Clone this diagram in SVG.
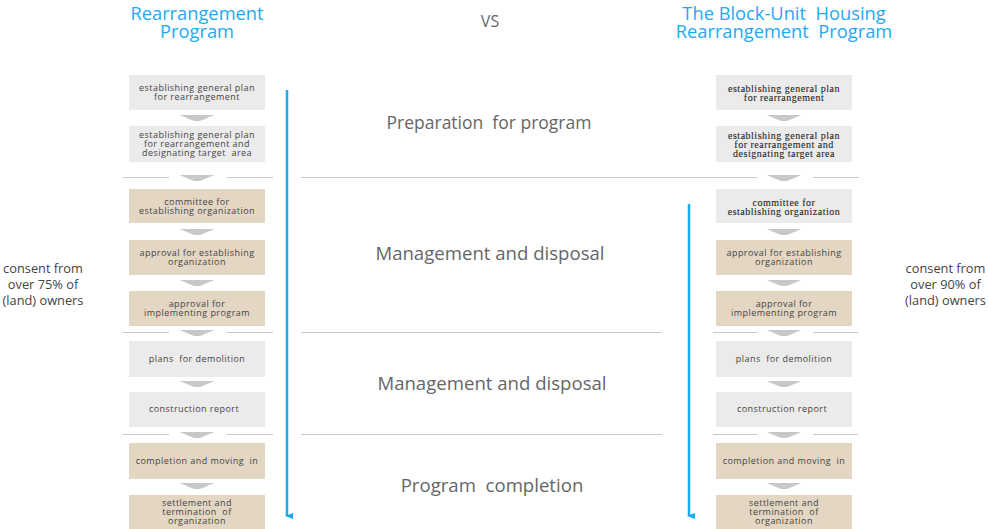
<svg xmlns="http://www.w3.org/2000/svg" width="988" height="529" viewBox="0 0 988 529" xml:space="preserve">
<style>
text{white-space:pre}
.title{font-family:"Open Sans","Noto Sans",sans-serif;font-size:18.3px;fill:#1eaaf1;text-anchor:middle}
.vs{font-family:"Open Sans","Noto Sans",sans-serif;font-size:16px;fill:#666;text-anchor:middle}
.phase{font-family:"Open Sans","Noto Sans",sans-serif;font-size:17.5px;fill:#666;text-anchor:middle}
.phase2{font-family:"Open Sans","Noto Sans",sans-serif;font-size:18.6px;fill:#666;text-anchor:middle}
.side{font-family:"Open Sans","Noto Sans",sans-serif;font-size:12.8px;fill:#444;text-anchor:middle}
.g{fill:#ebebeb}
.t{fill:#e3d7c4}
.bt{font-family:"Open Sans","Noto Sans",sans-serif;font-size:9px;letter-spacing:0.45px;fill:#444;text-anchor:middle}
.st{font-family:"Liberation Serif",serif;font-size:10px;letter-spacing:0.5px;fill:#222;text-anchor:middle;stroke:#333;stroke-width:0.1}
.chev{fill:#c8c8c8}
.div{stroke:#c8c8c8;stroke-width:1;fill:none}
.flow{stroke:#1aabea;stroke-width:2.5;fill:none}
</style>
<defs>
<marker id="ah" markerWidth="6" markerHeight="8" refX="3" refY="6" orient="auto-start-reverse" markerUnits="userSpaceOnUse" viewBox="0 0 6 8">
<path d="M0,0 L3,8 L6,0 Z" fill="#1aabea"/>
</marker>
<polygon id="cv" points="-17.5,0 17.5,0 3,6 -3,6"/>
</defs>
<text class="title" x="197" y="20">Rearrangement</text>
<text class="title" x="197" y="38">Program</text>
<text class="vs" x="490" y="27">VS</text>
<text class="title" x="784" y="20">The Block-Unit  Housing</text>
<text class="title" x="784" y="38">Rearrangement  Program</text>
<text class="phase" x="489" y="129">Preparation  for program</text>
<text class="phase2" x="490" y="260">Management and disposal</text>
<text class="phase2" x="492" y="390">Management and disposal</text>
<text class="phase2" x="492" y="492">Program  completion</text>
<g id="side-left">
<text class="side" x="43" y="273">consent from</text>
<text class="side" x="43" y="289">over 75% of</text>
<text class="side" x="43" y="305">(land) owners</text>
</g>
<g id="side-right">
<text class="side" x="945.5" y="273">consent from</text>
<text class="side" x="945.5" y="289">over 90% of</text>
<text class="side" x="945.5" y="305">(land) owners</text>
</g>
<g id="dividers">
<line class="div" x1="123" y1="177.5" x2="169" y2="177.5"/>
<line class="div" x1="227" y1="177.5" x2="273" y2="177.5"/>
<line class="div" x1="301" y1="177.5" x2="757" y2="177.5"/>
<line class="div" x1="813" y1="177.5" x2="859" y2="177.5"/>
<line class="div" x1="123" y1="332.5" x2="169" y2="332.5"/>
<line class="div" x1="227" y1="332.5" x2="273" y2="332.5"/>
<line class="div" x1="301" y1="332.5" x2="662" y2="332.5"/>
<line class="div" x1="713" y1="332.5" x2="757" y2="332.5"/>
<line class="div" x1="813" y1="332.5" x2="858" y2="332.5"/>
<line class="div" x1="123" y1="434.5" x2="169" y2="434.5"/>
<line class="div" x1="227" y1="434.5" x2="273" y2="434.5"/>
<line class="div" x1="301" y1="434.5" x2="662" y2="434.5"/>
<line class="div" x1="713" y1="434.5" x2="757" y2="434.5"/>
<line class="div" x1="813" y1="434.5" x2="858" y2="434.5"/>
</g>
<g id="connectors">
<use href="#cv" class="chev" x="197" y="115"/>
<use href="#cv" class="chev" x="197" y="175"/>
<use href="#cv" class="chev" x="197" y="229"/>
<use href="#cv" class="chev" x="197" y="280"/>
<use href="#cv" class="chev" x="197" y="330"/>
<use href="#cv" class="chev" x="197" y="381"/>
<use href="#cv" class="chev" x="197" y="432"/>
<use href="#cv" class="chev" x="197" y="483"/>
<use href="#cv" class="chev" x="784" y="115"/>
<use href="#cv" class="chev" x="784" y="175"/>
<use href="#cv" class="chev" x="784" y="229"/>
<use href="#cv" class="chev" x="784" y="280"/>
<use href="#cv" class="chev" x="784" y="330"/>
<use href="#cv" class="chev" x="784" y="381"/>
<use href="#cv" class="chev" x="784" y="432"/>
<use href="#cv" class="chev" x="784" y="483"/>
<line class="flow" x1="287" y1="90" x2="287" y2="516" marker-end="url(#ah)"/>
<line class="flow" x1="689" y1="204" x2="689" y2="516" marker-end="url(#ah)"/>
</g>
<g id="L1"><rect class="g" x="129" y="75" width="136" height="35"/><text class="bt" x="197" y="91">establishing general plan</text><text class="bt" x="197" y="100">for rearrangement</text></g>
<g id="L2"><rect class="g" x="129" y="126" width="136" height="36"/><text class="bt" x="197" y="138">establishing general plan</text><text class="bt" x="197" y="147">for rearrangement and</text><text class="bt" x="197" y="156">designating target  area</text></g>
<g id="L3"><rect class="t" x="129" y="189" width="136" height="34"/><text class="bt" x="197" y="205">committee for</text><text class="bt" x="197" y="214">establishing organization</text></g>
<g id="L4"><rect class="t" x="129" y="240" width="136" height="35"/><text class="bt" x="197" y="256">approval for establishing</text><text class="bt" x="197" y="265">organization</text></g>
<g id="L5"><rect class="t" x="129" y="291" width="136" height="35"/><text class="bt" x="197" y="307">approval for</text><text class="bt" x="197" y="316">implementing program</text></g>
<g id="L6"><rect class="g" x="129" y="341" width="136" height="36"/><text class="bt" x="197" y="362">plans  for demolition</text></g>
<g id="L7"><rect class="g" x="129" y="392" width="136" height="35"/><text class="bt" x="194" y="412">construction report</text></g>
<g id="L8"><rect class="t" x="129" y="443" width="136" height="36"/><text class="bt" x="197" y="464">completion and moving  in</text></g>
<g id="L9"><rect class="t" x="129" y="495" width="136" height="34"/><text class="bt" x="197" y="506">settlement and</text><text class="bt" x="197" y="515">termination  of</text><text class="bt" x="197" y="524">organization</text></g>
<g id="R1"><rect class="g" x="716" y="75" width="136" height="35"/><text class="st" x="784" y="92">establishing general plan</text><text class="st" x="784" y="101">for rearrangement</text></g>
<g id="R2"><rect class="g" x="716" y="126" width="136" height="36"/><text class="st" x="784" y="139">establishing general plan</text><text class="st" x="784" y="148">for rearrangement and</text><text class="st" x="784" y="157">designating target area</text></g>
<g id="R3"><rect class="g" x="716" y="189" width="136" height="34"/><text class="st" x="784" y="206">committee for</text><text class="st" x="784" y="215">establishing organization</text></g>
<g id="R4"><rect class="t" x="716" y="240" width="136" height="35"/><text class="bt" x="784" y="256">approval for establishing</text><text class="bt" x="784" y="265">organization</text></g>
<g id="R5"><rect class="t" x="716" y="291" width="136" height="35"/><text class="bt" x="784" y="307">approval for</text><text class="bt" x="784" y="316">implementing program</text></g>
<g id="R6"><rect class="g" x="716" y="341" width="136" height="36"/><text class="bt" x="784" y="362">plans  for demolition</text></g>
<g id="R7"><rect class="g" x="716" y="392" width="136" height="35"/><text class="bt" x="782" y="412">construction report</text></g>
<g id="R8"><rect class="t" x="716" y="443" width="136" height="36"/><text class="bt" x="784" y="464">completion and moving  in</text></g>
<g id="R9"><rect class="t" x="716" y="495" width="136" height="34"/><text class="bt" x="784" y="506">settlement and</text><text class="bt" x="784" y="515">termination  of</text><text class="bt" x="784" y="524">organization</text></g>
</svg>
